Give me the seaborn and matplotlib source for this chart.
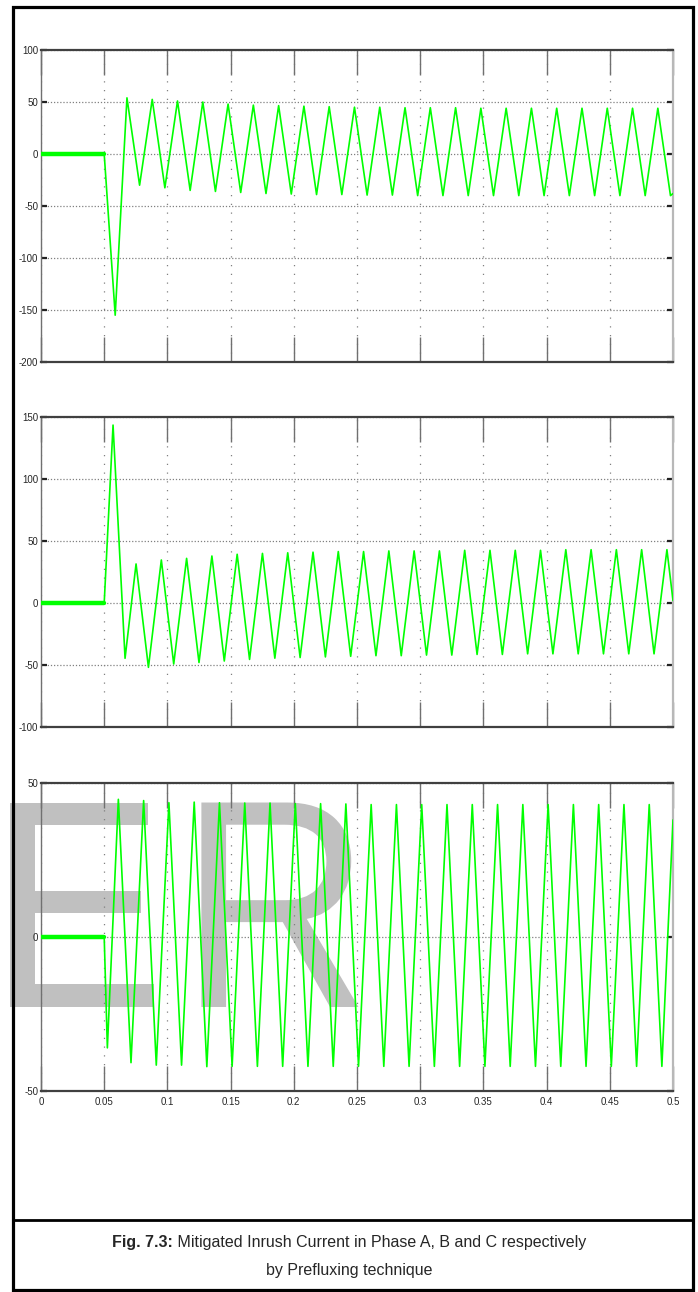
import numpy as np
import pandas as pd
import matplotlib
matplotlib.use("Agg")
import matplotlib.pyplot as plt
import seaborn as sns
from matplotlib.lines import Line2D
from matplotlib.patches import Rectangle
from matplotlib.patheffects import AbstractPathEffect
from matplotlib.transforms import Affine2D

sns.set_theme(style="white")
plt.rcParams["font.family"] = ["Liberation Sans", "DejaVu Sans"]

# ---------------------------------------------------------------------------
# Datos (picos y valles de cada ciclo, en s y A)
# ---------------------------------------------------------------------------
t_plano = [0.0, 0.05]
i_plano = [0.0, 0.0]

# Fase A
a_inicio = (0.05, 0.0)
a_fin = (0.5, -38.0)
a_pico_t = [0.068, 0.088, 0.108, 0.128, 0.148, 0.168, 0.188, 0.208, 0.228, 0.248, 0.268,
            0.288, 0.308, 0.328, 0.348, 0.368, 0.388, 0.408, 0.428, 0.448, 0.468, 0.488]
a_pico_i = [54, 52.5, 51, 50, 48, 47, 46.5, 46, 45.5, 45, 45,
            44.5, 44.5, 44.5, 44, 44, 44, 44, 44, 44, 44, 44]
a_valle_t = [0.0587, 0.078, 0.098, 0.118, 0.138, 0.158, 0.178, 0.198, 0.218, 0.238, 0.258, 0.278,
             0.298, 0.318, 0.338, 0.358, 0.378, 0.398, 0.418, 0.438, 0.458, 0.478, 0.498]
a_valle_i = [-155, -30, -32.5, -35, -36, -37, -38, -38.5, -39, -39, -39.5, -39.5,
             -40, -40, -40, -40, -40, -40, -40, -40, -40, -40, -40]

# Fase B
b_inicio = (0.05, 0.0)
b_fin = (0.5, 2.0)
b_pico_t = [0.057, 0.0752, 0.0952, 0.1152, 0.1352, 0.1552, 0.1752, 0.1952, 0.2152, 0.2352, 0.2552, 0.2752,
            0.2952, 0.3152, 0.3352, 0.3552, 0.3752, 0.3952, 0.4152, 0.4352, 0.4552, 0.4752, 0.4952]
b_pico_i = [143.5, 31.5, 34.7, 36, 37.9, 39.3, 40, 40.5, 41, 41.5, 41.5, 42,
            42, 42, 42.5, 42.5, 42.5, 42.5, 43, 43, 43, 43, 43]
b_valle_t = [0.0665, 0.085, 0.105, 0.125, 0.145, 0.165, 0.185, 0.205, 0.225, 0.245, 0.265,
             0.285, 0.305, 0.325, 0.345, 0.365, 0.385, 0.405, 0.425, 0.445, 0.465, 0.485]
b_valle_i = [-44.6, -51.9, -49.2, -48, -46.8, -45.5, -44.5, -44, -43.5, -43, -42.5,
             -42.5, -42, -42, -41.5, -41.5, -41, -41, -41, -41, -41, -41]

# Fase C
c_inicio = (0.05, 0.0)
c_fin = (0.5, 38.0)
c_pico_t = [0.0612, 0.0812, 0.1012, 0.1212, 0.1412, 0.1612, 0.1812, 0.2012, 0.2212, 0.2412, 0.2612,
            0.2812, 0.3012, 0.3212, 0.3412, 0.3612, 0.3812, 0.4012, 0.4212, 0.4412, 0.4612, 0.4812]
c_pico_i = [44.7, 44.3, 43.6, 43.8, 43.6, 43.5, 43.5, 43.3, 43.3, 43.2, 43,
            43, 43, 43, 43, 43, 43, 43, 43, 43, 43, 43]
c_valle_t = [0.0525, 0.0712, 0.0912, 0.1112, 0.1312, 0.1512, 0.1712, 0.1912, 0.2112, 0.2312, 0.2512, 0.2712,
             0.2912, 0.3112, 0.3312, 0.3512, 0.3712, 0.3912, 0.4112, 0.4312, 0.4512, 0.4712, 0.4912]
c_valle_i = [-36, -40.8, -41.6, -41.6, -42.1, -42, -42, -42, -42, -42, -42, -42,
             -42, -42, -42, -42, -42, -42, -42, -42, -42, -42, -42]

x_ticks = [0, 0.05, 0.1, 0.15, 0.2, 0.25, 0.3, 0.35, 0.4, 0.45, 0.5]
x_tick_labels = ["0", "0.05", "0.1", "0.15", "0.2", "0.25", "0.3", "0.35", "0.4", "0.45", "0.5"]
a_yticks = [100, 50, 0, -50, -100, -150, -200]
b_yticks = [150, 100, 50, 0, -50, -100]
c_yticks = [50, 0, -50]

caption_bold = "Fig. 7.3:"
caption_1 = " Mitigated Inrush Current in Phase A, B and C respectively"
caption_2 = "by Prefluxing technique"

# ---------------------------------------------------------------------------
W, H = 698, 1292
VERDE = "#00ff00"


class Estrechar(AbstractPathEffect):
    """Comprime horizontalmente el texto respecto a su borde izquierdo."""

    def __init__(self, sx):
        super().__init__()
        self.sx = sx

    def draw_path(self, renderer, gc, tpath, affine, rgbFace=None):
        x0 = tpath.transformed(affine).get_extents().x0
        aff = affine + Affine2D().translate(-x0, 0).scale(self.sx, 1).translate(x0, 0)
        renderer.draw_path(gc, tpath, aff, rgbFace)


def tabla(inicio, fin, pt, pi, vt, vi):
    t = [inicio[0]] + pt + vt + [fin[0]]
    i = [inicio[1]] + pi + vi + [fin[1]]
    return pd.DataFrame({"t": t, "i": i}).sort_values("t")


def caja(top, bottom, left=41, right=673):
    return [left / W, 1 - bottom / H, (right - left) / W, (bottom - top) / H]


fig = plt.figure(figsize=(W / 100, H / 100), dpi=100)

# marca de agua
for letra, x0 in [("E", -14), ("R", 177)]:
    fig.text(x0 / W, 1 - 1007 / H, letra, fontsize=214, color="#c0c0c0",
             ha="left", va="baseline", zorder=-5, path_effects=[Estrechar(0.89)])

paneles = [
    (caja(50, 362), tabla(a_inicio, a_fin, a_pico_t, a_pico_i, a_valle_t, a_valle_i), (-200, 100), a_yticks),
    (caja(417, 727), tabla(b_inicio, b_fin, b_pico_t, b_pico_i, b_valle_t, b_valle_i), (-100, 150), b_yticks),
    (caja(783, 1091), tabla(c_inicio, c_fin, c_pico_t, c_pico_i, c_valle_t, c_valle_i), (-50, 50), c_yticks),
]

for k, (pos, df, ylim, yticks) in enumerate(paneles):
    ax = fig.add_axes(pos)
    ax.set_facecolor("none")
    sns.lineplot(x=t_plano, y=i_plano, ax=ax, color=VERDE, lw=3.2, zorder=4)
    sns.lineplot(data=df, x="t", y="i", ax=ax, color=VERDE, lw=1.2,
                 estimator=None, sort=False, zorder=4)
    ax.set_xlim(0, 0.5)
    ax.set_ylim(*ylim)
    ax.set_xlabel("")
    ax.set_ylabel("")
    ax.set_xticks(x_ticks)
    ax.set_yticks(yticks)
    ax.set_yticklabels([str(v) for v in yticks])
    if k == 2:
        ax.set_xticklabels(x_tick_labels)
    else:
        ax.set_xticklabels([])
    ax.tick_params(axis="x", direction="in", length=18, width=1, color="#707070",
                   top=True, bottom=True, labelsize=7, pad=4)
    ax.tick_params(axis="y", direction="in", length=4.5, width=1.6, color="#222222",
                   left=True, right=True, labelsize=7, pad=2)
    ax.xaxis.grid(True, color="#808080", lw=0.9, linestyle=(0, (1, 6)))
    ax.yaxis.grid(True, color="#808080", lw=0.9, linestyle=(0, (1, 1.5)))
    ax.set_axisbelow(True)
    ax.spines["top"].set(color="#404040", lw=1.6)
    ax.spines["bottom"].set(color="#404040", lw=1.6)
    ax.spines["left"].set(color="#707070", lw=1.0)
    ax.spines["right"].set(color="#b8b8b8", lw=1.6)

# marco exterior y separador del pie
fig.add_artist(Rectangle((13 / W, 1 - 1290 / H), (693 - 13) / W, (1290 - 7) / H,
                         transform=fig.transFigure, fill=False, ec="black", lw=2.3, zorder=10))
fig.add_artist(Line2D([13 / W, 693 / W], [1 - 1220 / H, 1 - 1220 / H],
                      transform=fig.transFigure, color="black", lw=2.0, zorder=10))

# pie de figura con parte en negrita
y1 = 1 - 1243 / H
t1 = fig.text(0, y1, caption_bold, fontsize=11.5, fontweight="bold", va="center", ha="left")
t2 = fig.text(0, y1, caption_1, fontsize=11.5, va="center", ha="left")
r = fig.canvas.get_renderer()
w1 = t1.get_window_extent(r).width
w2 = t2.get_window_extent(r).width
x_ini = (W - (w1 + w2)) / 2
t1.set_x(x_ini / W)
t2.set_x((x_ini + w1) / W)
fig.text(0.5, 1 - 1271 / H, caption_2, fontsize=11.5, va="center", ha="center")

fig.savefig("out.png", dpi=100)
